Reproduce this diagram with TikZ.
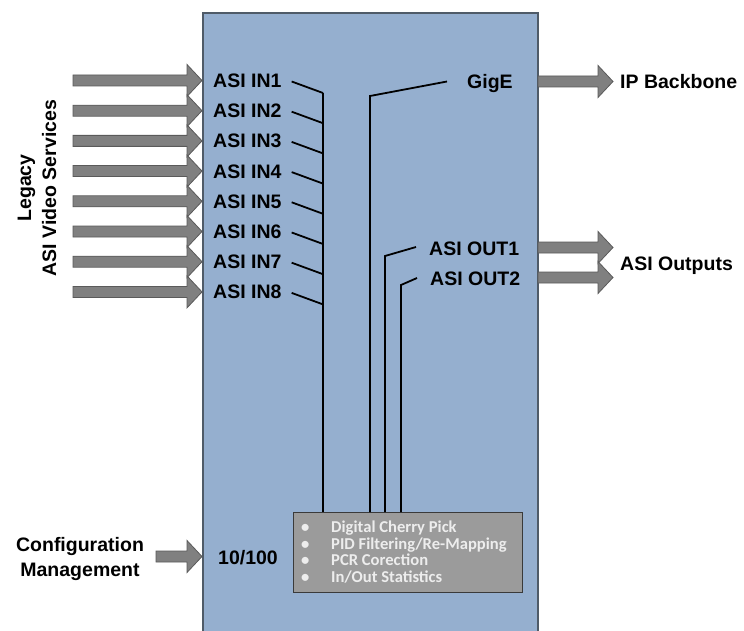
\documentclass[tikz,border=0pt]{standalone}
\usepackage{fontspec}
\setmainfont{Liberation Sans}
\newfontfamily\calib{Carlito}
\usetikzlibrary{calc}
\definecolor{boxblue}{HTML}{95AFCF}
\definecolor{boxedge}{HTML}{4F5B68}
\definecolor{arrowfill}{HTML}{808080}
\definecolor{arrowedge}{HTML}{5A5A5A}
\definecolor{procfill}{HTML}{9B9B9B}
\definecolor{procedge}{HTML}{3A3A3A}
\definecolor{proctext}{HTML}{EDEDED}
\tikzset{
  lbl/.style={font=\fontsize{19.5}{25}\selectfont\bfseries, inner sep=0pt},
  wire/.style={line width=1.8pt, black},
  arrowsty/.style={fill=arrowfill, draw=arrowedge, line width=0.8pt, line join=miter},
  pics/barrow/.style={code={
    \filldraw[arrowsty] (0,-5.5) -- ({#1-15},-5.5) -- ({#1-15},-16) -- (#1,0)
      -- ({#1-15},16) -- ({#1-15},5.5) -- (0,5.5) -- cycle;}},
  mainbox/.style={draw=boxedge, fill=boxblue, line width=1.6pt, inner sep=0pt},
  procbox/.style={draw=procedge, fill=procfill, line width=1.2pt, inner sep=0pt}
}
\begin{document}
\begin{tikzpicture}[x=1pt,y=-1pt]
\clip (0,0) rectangle (744,631);
\fill[white] (0,0) rectangle (744,631);
% main unit
\node[mainbox, minimum width=335pt, minimum height=640pt, anchor=north west] (main) at (202,12) {};
% processing block
\node[procbox, minimum width=229pt, minimum height=80pt, anchor=north west] (proc) at (293,512) {};
\node[anchor=base west, inner sep=0pt, text=proctext,
      font=\calib\bfseries\fontsize{16.6}{16.7}\selectfont] (items) at (301,532.5)
  {\begin{tabular}[t]{@{}l@{}}
   \makebox[30pt][l]{\textbullet}Digital Cherry Pick\\
   \makebox[30pt][l]{\textbullet}PID Filtering/Re-Mapping\\
   \makebox[30pt][l]{\textbullet}PCR Corection\\
   \makebox[30pt][l]{\textbullet}In/Out Statistics
   \end{tabular}};
% inputs
\coordinate (busIn) at (323,93);
\foreach \i in {1,...,8} {
  \pgfmathsetmacro\yy{80.5+30.2*(\i-1)}
  \pic at (73,\yy) {barrow=129};
  \node[lbl, anchor=base west] (in\i) at (213,\yy+7) {ASI IN\i};
  \draw[wire] ($(in\i.base east)+(10,-6)$) -- (323,\yy+12.5);
}
\draw[wire] (busIn) -- (busIn |- proc.north);
\node[lbl, anchor=center, rotate=90, align=center] (legacy) at (37,188)
  {\fontsize{19.5}{22}\selectfont Legacy\\ASI Video Services};
% GigE
\pic at (538,81.5) {barrow=75};
\node[lbl, anchor=base west] (gige) at (467,88.5) {GigE};
\node[lbl, anchor=base west] (ipb) at (620,88.5) {IP Backbone};
\coordinate (busG) at (370,96);
\draw[wire] ($(gige.base west)+(-20,-7)$) -- (busG) -- (busG |- proc.north);
% ASI outputs
\pic at (538,247.5) {barrow=75};
\pic at (538,277.5) {barrow=75};
\node[lbl, anchor=base west] (out1) at (429,255) {ASI OUT1};
\node[lbl, anchor=base west] (out2) at (430,285) {ASI OUT2};
\node[lbl, anchor=base west] (outs) at (620,270) {ASI Outputs};
\coordinate (busO1) at (385,256);
\coordinate (busO2) at (401,285);
\draw[wire] ($(out1.base west)+(-13,-8)$) -- (busO1) -- (busO1 |- proc.north);
\draw[wire] ($(out2.base west)+(-13,-7)$) -- (busO2) -- (busO2 |- proc.north);
% configuration
\pic at (156,556.5) {barrow=46};
\node[lbl, anchor=base west] (mgmt) at (218,564) {10/100};
\node[lbl, align=center, anchor=center] (config) at (80,558.5) {Configuration\\Management};
\end{tikzpicture}
\end{document}
